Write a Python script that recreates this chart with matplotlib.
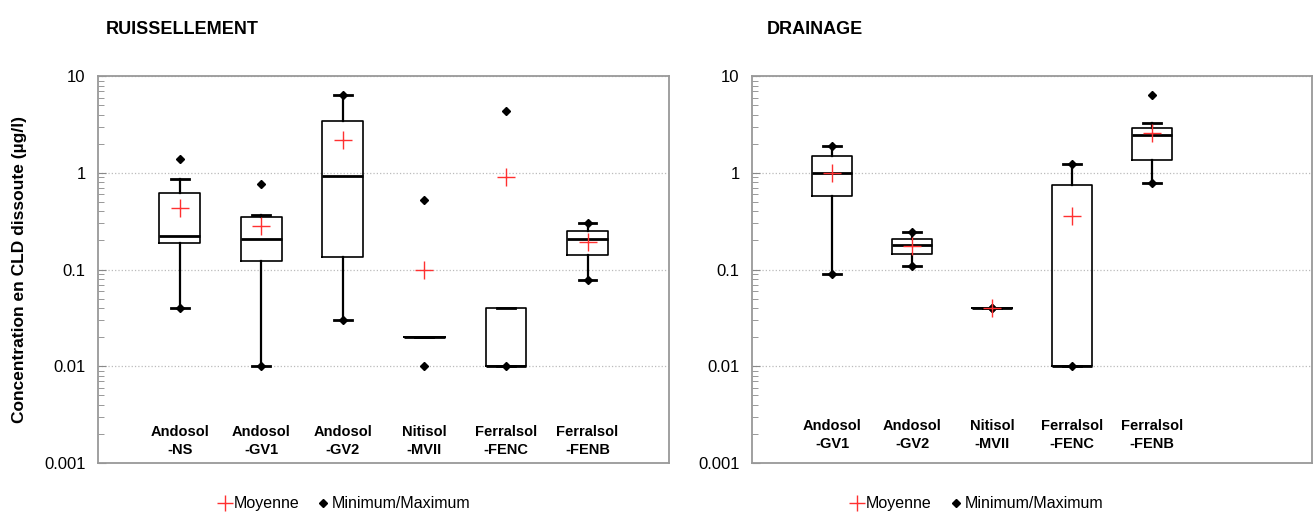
import matplotlib.pyplot as plt
from matplotlib.lines import Line2D

plt.rcParams['font.family'] = ['Liberation Sans', 'DejaVu Sans']

# --- Ruissellement (runoff) ---
left_labels = ["Andosol\n-NS", "Andosol\n-GV1", "Andosol\n-GV2",
               "Nitisol\n-MVII", "Ferralsol\n-FENC", "Ferralsol\n-FENB"]
left_whislo = [0.04, 0.01, 0.03, 0.02, 0.01, 0.078]
left_q1 = [0.19, 0.122, 0.136, 0.02, 0.01, 0.141]
left_med = [0.22, 0.206, 0.93, 0.02, 0.01, 0.206]
left_q3 = [0.62, 0.35, 3.4, 0.02, 0.04, 0.25]
left_whishi = [0.855, 0.366, 6.4, 0.02, 0.04, 0.30]
left_mean = [0.43, 0.28, 2.17, 0.10, 0.90, 0.195]
left_min = [0.04, 0.01, 0.03, 0.01, 0.01, 0.078]
left_max = [1.40, 0.77, 6.4, 0.52, 4.4, 0.30]

# --- Drainage ---
right_labels = ["Andosol\n-GV1", "Andosol\n-GV2", "Nitisol\n-MVII",
                "Ferralsol\n-FENC", "Ferralsol\n-FENB"]
right_whislo = [0.09, 0.11, 0.04, 0.01, 0.79]
right_q1 = [0.58, 0.145, 0.04, 0.01, 1.35]
right_med = [1.0, 0.178, 0.04, 0.01, 2.47]
right_q3 = [1.5, 0.208, 0.04, 0.75, 2.91]
right_whishi = [1.89, 0.243, 0.04, 1.23, 3.28]
right_mean = [1.0, 0.175, 0.04, 0.36, 2.59]
right_min = [0.09, 0.11, 0.04, 0.01, 0.79]
right_max = [1.89, 0.243, 0.04, 1.23, 6.4]

yticks = [0.001, 0.01, 0.1, 1, 10]
ytick_labels = ["0.001", "0.01", "0.1", "1", "10"]


def draw_panel(ax, labels, whislo, q1, med, q3, whishi, mean, vmin, vmax,
               title, title_x, label_y, legend_x):
    pos = list(range(1, len(labels) + 1))
    stats = []
    for i in range(len(labels)):
        stats.append(dict(whislo=whislo[i], q1=q1[i], med=med[i], q3=q3[i],
                          whishi=whishi[i], fliers=[]))
    ax.bxp(stats, positions=pos, widths=0.5, showfliers=False,
           capwidths=0.22,
           boxprops=dict(color='black', linewidth=1.2),
           medianprops=dict(color='black', linewidth=2),
           whiskerprops=dict(color='black', linewidth=1.6),
           capprops=dict(color='black', linewidth=2))
    ax.plot(pos, vmin, linestyle='none', marker='D', markersize=4,
            color='black', zorder=5)
    ax.plot(pos, vmax, linestyle='none', marker='D', markersize=4,
            color='black', zorder=5)
    ax.plot(pos, mean, linestyle='none', marker='+', markersize=13,
            markeredgewidth=1, color='#ff3030', zorder=6)

    ax.set_yscale('log')
    ax.set_ylim(0.001, 10)
    ax.set_xlim(0, 7)
    ax.set_yticks(yticks)
    ax.set_yticklabels(ytick_labels, fontsize=12)
    ax.set_xticks([])
    ax.tick_params(axis='y', which='both', direction='in', color='#888888',
                   pad=9)
    ax.tick_params(axis='y', which='major', length=6)
    ax.tick_params(axis='y', which='minor', length=4)
    ax.grid(axis='y', which='major', linestyle=':', color='#bbbbbb',
            linewidth=0.9)
    ax.set_axisbelow(True)
    for s in ax.spines.values():
        s.set_color('#999999')
        s.set_linewidth(1.3)

    for p, lab in zip(pos, labels):
        ax.text(p, label_y, lab, transform=ax.get_xaxis_transform(),
                ha='center', va='center', fontsize=10.5, fontweight='bold',
                linespacing=1.4)

    ax.text(title_x, 1.12, title, transform=ax.transAxes, fontsize=13,
            fontweight='bold', ha='left', va='center')

    handles = [
        Line2D([], [], linestyle='none', marker='+', markersize=12,
               markeredgewidth=1, color='#ff3030', label='Moyenne'),
        Line2D([], [], linestyle='none', marker='D', markersize=4,
               color='black', label='Minimum/Maximum'),
    ]
    ax.legend(handles=handles, loc='center', bbox_to_anchor=(legend_x, -0.105),
              ncol=2, frameon=False, fontsize=11.5, handletextpad=0.05,
              columnspacing=1.0, handlelength=1.0)


fig = plt.figure(figsize=(13.14, 5.13), dpi=100)
ax1 = fig.add_axes([0.0746, 0.0975, 0.4346, 0.754])
ax2 = fig.add_axes([0.5723, 0.0975, 0.4265, 0.754])

draw_panel(ax1, left_labels, left_whislo, left_q1, left_med, left_q3,
           left_whishi, left_mean, left_min, left_max,
           'RUISSELLEMENT', 0.014, 0.057, 0.43)
draw_panel(ax2, right_labels, right_whislo, right_q1, right_med, right_q3,
           right_whishi, right_mean, right_min, right_max,
           'DRAINAGE', 0.027, 0.072, 0.40)

ax1.set_ylabel('Concentration en CLD dissoute (µg/l)', fontsize=12.5,
               fontweight='bold', labelpad=12)

fig.savefig('out.png', dpi=100)
